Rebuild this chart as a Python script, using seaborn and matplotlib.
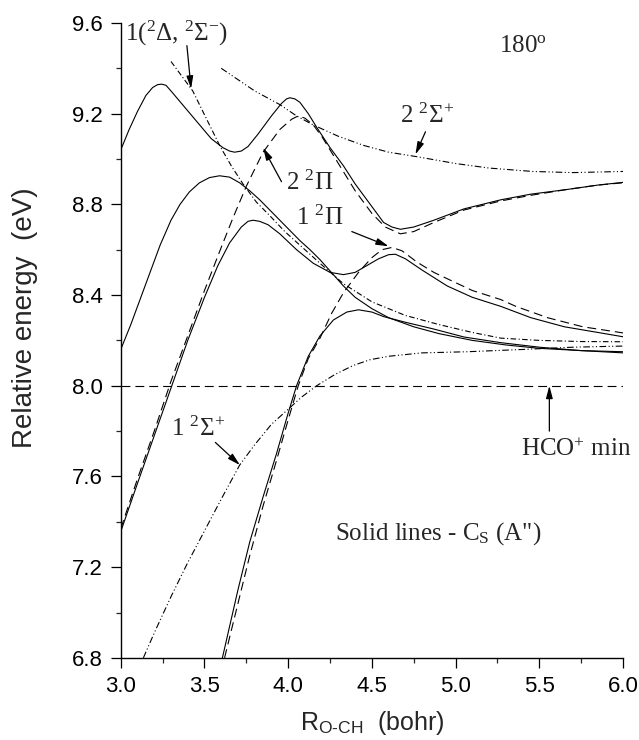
import matplotlib
matplotlib.use("Agg")
import matplotlib.pyplot as plt
import seaborn as sns
import numpy as np

# ---- potential energy curves along R(O-CH), 180 degrees ----
# Cs (A'') adiabatic states (solid)
s1_r = [3.00, 3.05, 3.10, 3.15, 3.19, 3.22, 3.245, 3.27, 3.30, 3.38, 3.46, 3.54, 3.61, 3.65,
        3.68, 3.72, 3.76, 3.82, 3.90, 3.96, 3.99, 4.01, 4.04, 4.07, 4.12, 4.17, 4.25, 4.33,
        4.40, 4.47, 4.53, 4.57, 4.62, 4.67, 4.75, 4.87, 5.05, 5.27, 5.45, 5.66, 5.85, 6.00]
s1_e = [9.04, 9.13, 9.21, 9.28, 9.315, 9.328, 9.33, 9.325, 9.30, 9.23, 9.16, 9.09, 9.05, 9.035,
        9.03, 9.035, 9.055, 9.11, 9.19, 9.245, 9.265, 9.27, 9.265, 9.25, 9.20, 9.14, 9.05, 8.97,
        8.89, 8.82, 8.76, 8.72, 8.70, 8.69, 8.70, 8.73, 8.78, 8.82, 8.845, 8.865, 8.885, 8.897]

s2_r = [3.00, 3.06, 3.115, 3.18, 3.235, 3.30, 3.354, 3.41, 3.47, 3.53, 3.59, 3.65, 3.71, 3.77,
        3.83, 3.89, 3.95, 4.01, 4.07, 4.13, 4.19, 4.27, 4.33, 4.40, 4.50, 4.60, 4.75, 4.90,
        5.10, 5.30, 5.50, 5.75, 6.00]
s2_e = [8.16, 8.27, 8.38, 8.51, 8.62, 8.73, 8.80, 8.855, 8.895, 8.918, 8.926, 8.92, 8.895, 8.86,
        8.82, 8.775, 8.73, 8.685, 8.64, 8.60, 8.556, 8.49, 8.44, 8.39, 8.34, 8.30, 8.26, 8.23,
        8.20, 8.18, 8.165, 8.155, 8.15]

s3_r = [3.00, 3.10, 3.20, 3.30, 3.40, 3.50, 3.58, 3.65, 3.72, 3.76, 3.79, 3.83, 3.88, 3.95,
        4.05, 4.15, 4.25, 4.33, 4.40, 4.47, 4.54, 4.60, 4.64, 4.70, 4.80, 4.95, 5.10, 5.27,
        5.45, 5.65, 5.85, 6.00]
s3_e = [7.357, 7.57, 7.78, 7.99, 8.20, 8.39, 8.53, 8.63, 8.70, 8.725, 8.73, 8.725, 8.71, 8.67,
        8.60, 8.54, 8.50, 8.49, 8.50, 8.53, 8.56, 8.578, 8.58, 8.56, 8.51, 8.44, 8.39, 8.35,
        8.30, 8.26, 8.235, 8.216]

s4_r = [3.607, 3.70, 3.77, 3.85, 3.93, 4.00, 4.05, 4.12, 4.19, 4.27, 4.35, 4.42, 4.50, 4.57,
        4.70, 4.87, 5.05, 5.27, 5.50, 5.75, 6.00]
s4_e = [6.80, 7.10, 7.31, 7.51, 7.70, 7.88, 8.00, 8.13, 8.22, 8.29, 8.325, 8.335, 8.325, 8.305,
        8.28, 8.25, 8.215, 8.19, 8.17, 8.155, 8.145]

# C-inf-v diabatic states
pi2_r = [3.00, 3.10, 3.20, 3.30, 3.40, 3.50, 3.60, 3.67, 3.75, 3.85, 3.95, 4.02, 4.06, 4.10,
         4.15, 4.20, 4.30, 4.40, 4.50, 4.58, 4.67, 4.75, 4.87, 5.05, 5.27, 5.45, 5.66, 5.85, 6.00]
pi2_e = [7.37, 7.59, 7.80, 8.02, 8.22, 8.42, 8.61, 8.74, 8.88, 9.03, 9.13, 9.175, 9.19, 9.18,
         9.15, 9.10, 8.98, 8.86, 8.76, 8.70, 8.67, 8.68, 8.72, 8.775, 8.815, 8.84, 8.865, 8.885, 8.895]

pi1_r = [3.62, 3.70, 3.77, 3.85, 3.93, 4.00, 4.06, 4.12, 4.19, 4.26, 4.33, 4.42, 4.50, 4.56,
         4.62, 4.68, 4.77, 4.87, 4.97, 5.10, 5.27, 5.36, 5.55, 5.76, 6.00]
pi1_e = [6.80, 7.04, 7.25, 7.47, 7.67, 7.85, 8.00, 8.12, 8.21, 8.32, 8.41, 8.50, 8.565, 8.60,
         8.61, 8.595, 8.545, 8.50, 8.465, 8.42, 8.38, 8.35, 8.30, 8.26, 8.233]

delta_r = [3.30, 3.36, 3.43, 3.51, 3.593, 3.66, 3.73, 3.81, 3.89, 3.98, 4.07, 4.19, 4.33, 4.50,
           4.70, 4.90, 5.10, 5.27, 5.50, 5.75, 6.00]
delta_e = [9.43, 9.37, 9.30, 9.18, 9.056, 8.97, 8.89, 8.81, 8.75, 8.68, 8.62, 8.54, 8.45, 8.37,
           8.31, 8.27, 8.235, 8.21, 8.20, 8.195, 8.194]

sig2_r = [3.60, 3.70, 3.80, 3.95, 4.05, 4.15, 4.30, 4.45, 4.60, 4.77, 5.00, 5.20, 5.46, 5.70, 6.00]
sig2_e = [9.40, 9.35, 9.30, 9.24, 9.19, 9.15, 9.10, 9.06, 9.03, 9.01, 8.98, 8.96, 8.945, 8.94, 8.945]

sig1_r = [3.135, 3.20, 3.30, 3.40, 3.50, 3.60, 3.71, 3.80, 3.90, 3.99, 4.08, 4.17, 4.28, 4.39,
          4.49, 4.60, 4.80, 5.07, 5.40, 5.70, 6.00]
sig1_e = [6.80, 6.91, 7.07, 7.22, 7.36, 7.50, 7.65, 7.74, 7.83, 7.89, 7.95, 8.00, 8.05, 8.09,
          8.115, 8.13, 8.145, 8.15, 8.16, 8.17, 8.175]

hco_r = [3.0, 6.0]
hco_e = [8.0, 8.0]

x_ticks = [3.0, 3.5, 4.0, 4.5, 5.0, 5.5, 6.0]
y_ticks = [6.8, 7.2, 7.6, 8.0, 8.4, 8.8, 9.2, 9.6]

sns.set_style("ticks")
plt.rcParams["font.family"] = ["Liberation Sans", "DejaVu Sans"]
plt.rcParams["mathtext.fontset"] = "custom"
plt.rcParams["mathtext.rm"] = "Liberation Serif"
plt.rcParams["mathtext.it"] = "Liberation Serif:italic"
plt.rcParams["mathtext.bf"] = "Liberation Serif:bold"
plt.rcParams["mathtext.sf"] = "Liberation Sans"

fig = plt.figure(figsize=(6.39, 7.40), dpi=100)
ax = fig.add_axes([0.189, 0.111, 0.786, 0.858])

LW = 0.8
dashed = (0, (8, 4.5))
dashdotdot = (0, (6, 2.2, 1, 2.2, 1, 2.2))
dashdot = (0, (5, 2.2, 1, 2.2))

def curve(r, e, ls):
    sns.lineplot(x=r, y=e, ax=ax, color="black", lw=LW, linestyle=ls,
                 estimator=None, sort=True)

for r, e in [(s1_r, s1_e), (s2_r, s2_e), (s3_r, s3_e), (s4_r, s4_e)]:
    curve(r, e, "-")
curve(pi2_r, pi2_e, dashed)
curve(pi1_r, pi1_e, dashed)
curve(delta_r, delta_e, dashdot)
curve(sig2_r, sig2_e, dashdotdot)
curve(sig1_r, sig1_e, dashdotdot)
sns.lineplot(x=hco_r, y=hco_e, ax=ax, color="black", lw=LW, linestyle=(0, (8, 4.5)))

ax.set_xlim(3.0, 6.0)
ax.set_ylim(6.8, 9.6)
ax.set_xticks(x_ticks)
ax.set_yticks(y_ticks)
ax.set_xticklabels([f"{v:.1f}" for v in x_ticks])
ax.set_yticklabels([f"{v:.1f}" for v in y_ticks])
ax.set_xticks(np.arange(3.25, 6.0, 0.5), minor=True)
ax.set_yticks(np.arange(7.0, 9.6, 0.4), minor=True)
ax.tick_params(axis="both", which="major", direction="out", length=7, width=0.9,
               labelsize=16, colors="black", pad=6)
ax.tick_params(axis="both", which="minor", direction="out", length=3.5, width=0.9)
sns.despine(ax=ax)
for s in ("left", "bottom"):
    ax.spines[s].set_linewidth(1.0)
    ax.spines[s].set_color("black")

ax.set_xlabel("R$_{\\mathsf{O\u2010CH}}$  (bohr)", fontsize=18)
ax.set_ylabel("Relative energy  (eV)", fontsize=20)
ax.xaxis.set_label_coords(0.5, -0.08)
ax.yaxis.set_label_coords(-0.165, 0.535)

serif = ["Liberation Serif", "DejaVu Serif"]
fs = 18
arrow = dict(arrowstyle="-|>,head_length=0.75,head_width=0.2", color="black", lw=0.9,
             shrinkA=0, shrinkB=0)

ax.text(3.025, 9.555, "1($^2\\Delta$, $^2\\Sigma^{-}$)", family=serif, fontsize=fs,
        ha="left", va="center")
ax.annotate("", xy=(3.42, 9.31), xytext=(3.395, 9.50), arrowprops=arrow)

ax.text(5.40, 9.50, "180$^{\\rm o}$", family=serif, fontsize=fs, ha="center", va="center")

ax.text(4.83, 9.19, "2 $^2\\Sigma^{+}$", family=serif, fontsize=fs, ha="center", va="center")
ax.annotate("", xy=(4.76, 9.02), xytext=(4.82, 9.12), arrowprops=arrow)

ax.text(4.13, 8.895, "2 $^2\\Pi$", family=serif, fontsize=fs, ha="center", va="center")
ax.annotate("", xy=(3.85, 9.05), xytext=(3.96, 8.90), arrowprops=arrow)

ax.text(4.19, 8.74, "1 $^2\\Pi$", family=serif, fontsize=fs, ha="center", va="center")
ax.annotate("", xy=(4.60, 8.615), xytext=(4.38, 8.68), arrowprops=arrow)

ax.text(3.46, 7.81, "1 $^2\\Sigma^{+}$", family=serif, fontsize=fs, ha="center", va="center")
ax.annotate("", xy=(3.712, 7.65), xytext=(3.565, 7.75), arrowprops=arrow)

ax.text(5.72, 7.72, "HCO$^{+}$ min", family=serif, fontsize=fs, ha="center", va="center")
ax.annotate("", xy=(5.56, 8.0), xytext=(5.56, 7.80), arrowprops=arrow)

ax.text(4.28, 7.35, "Solid lines - C$_{\\rm S}$ (A\")", family=serif, fontsize=fs,
        ha="left", va="center")

fig.savefig("out.png", dpi=100)
